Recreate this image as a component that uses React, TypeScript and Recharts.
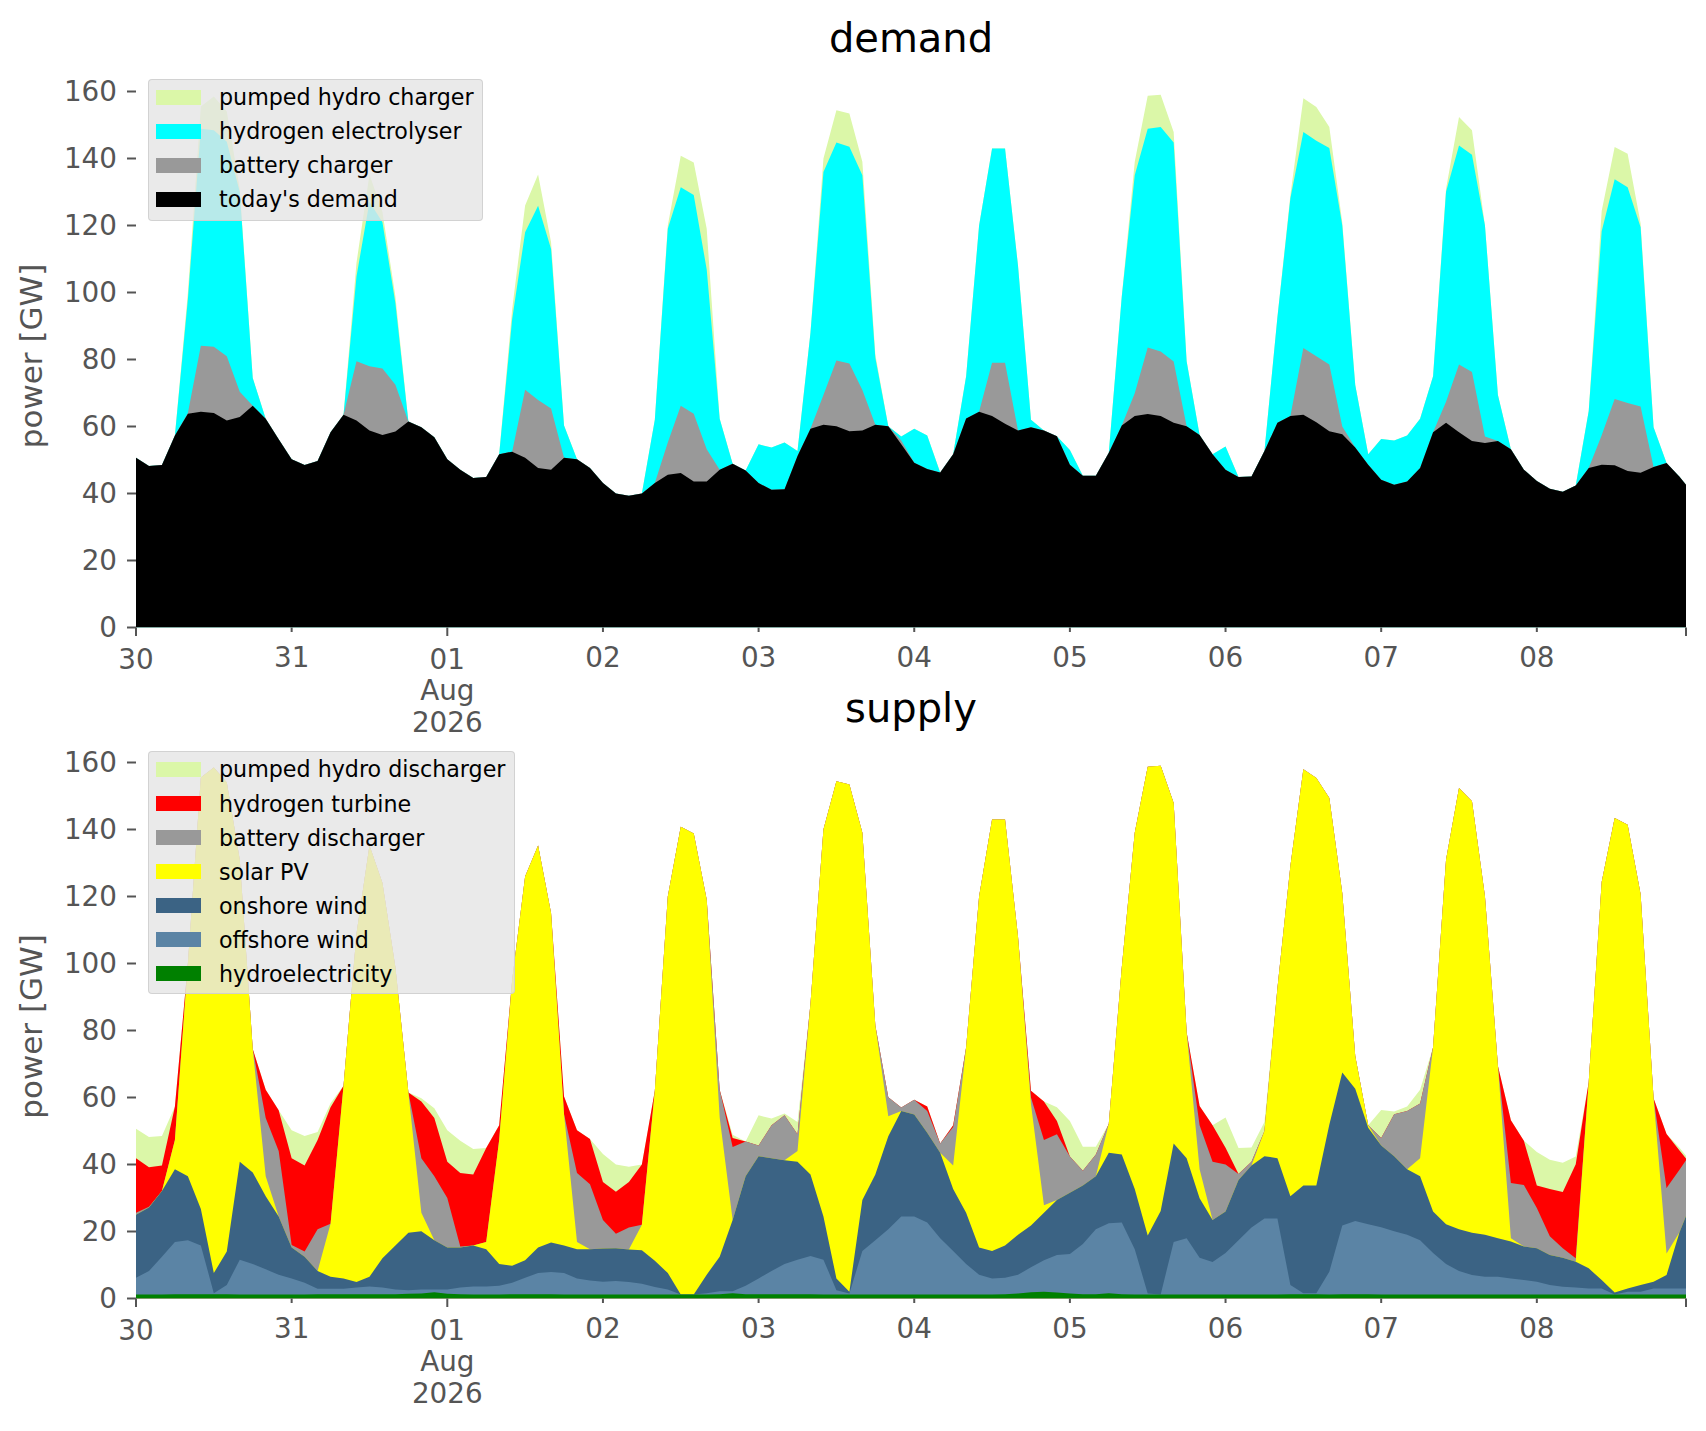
import React from "react";
import { AreaChart, Area, XAxis, YAxis } from "recharts";

// two-hourly samples from 30 Jul 00:00, plus the last hour (08 Aug 23:00)
const hours = [...Array.from({ length: 120 }, (_, i) => i * 2), 239];

const dayTicks = [0, 24, 48, 72, 96, 120, 144, 168, 192, 216];
const dayLabels = ["30", "31", "01\nAug\n2026", "02", "03", "04", "05", "06", "07", "08"];
const majorTicks = [0, 48, 239];
const yTicks = [0, 20, 40, 60, 80, 100, 120, 140, 160];

// upper edge of every band in GW (one row per day)
// demand side
const totalLoad = [
  50.7, 48.2, 48.5, 57.3, 100.0, 155.5, 158.5, 154.0, 131.0, 74.5, 62.3, 56.2,
  50.2, 48.5, 49.7, 58.3, 63.5, 108.9, 135.2, 124.0, 98.8, 61.5, 59.8, 56.8,
  50.2, 47.1, 44.6, 44.9, 51.7, 95.0, 126.0, 135.2, 115.0, 60.3, 50.2, 47.6,
  43.1, 40.0, 39.3, 40.0, 62.0, 120.0, 140.8, 138.8, 119.0, 62.3, 48.9, 46.9,
  54.7, 53.7, 55.2, 52.7, 88.0, 140.0, 154.4, 153.4, 139.0, 81.5, 60.1, 57.0,
  59.3, 57.3, 46.3, 51.7, 75.0, 120.0, 143.0, 143.0, 108.0, 62.0, 58.8, 57.1,
  53.0, 45.3, 45.3, 52.2, 98.8, 139.0, 158.7, 159.0, 147.9, 79.5, 57.5, 51.7,
  54.0, 44.9, 45.1, 52.7, 92.6, 129.1, 158.0, 155.4, 149.4, 121.0, 72.4, 51.7,
  56.3, 55.8, 57.3, 62.3, 75.0, 131.0, 152.4, 148.4, 120.0, 69.4, 53.2, 47.1,
  43.7, 41.4, 40.5, 42.4, 64.6, 124.3, 143.4, 141.4, 120.7, 59.8, 49.1, 45.0, 42.6,
];

const electrolyserTop = [
  50.7, 48.2, 48.5, 57.3, 98.0, 148.9, 148.4, 145.0, 130.0, 74.5, 62.3, 56.2,
  50.2, 48.5, 49.7, 58.3, 63.5, 104.8, 127.1, 121.0, 96.8, 61.5, 59.8, 56.8,
  50.2, 47.1, 44.6, 44.9, 51.7, 92.0, 118.0, 125.9, 113.0, 60.3, 50.2, 47.6,
  43.1, 40.0, 39.3, 40.0, 62.0, 119.0, 131.4, 129.1, 106.9, 62.3, 48.9, 46.9,
  54.7, 53.7, 55.2, 52.7, 88.0, 136.0, 144.8, 143.5, 135.0, 80.5, 60.1, 57.0,
  59.3, 57.3, 46.3, 51.7, 75.0, 120.0, 143.0, 143.0, 108.0, 62.0, 58.8, 57.1,
  53.0, 45.3, 45.3, 52.2, 98.8, 135.0, 148.9, 149.4, 144.8, 79.5, 57.5, 51.7,
  54.0, 44.9, 45.1, 52.7, 92.6, 128.1, 147.9, 145.3, 143.1, 120.0, 72.4, 51.7,
  56.3, 55.8, 57.3, 62.3, 75.0, 130.1, 143.9, 141.1, 120.0, 69.4, 53.2, 47.1,
  43.7, 41.4, 40.5, 42.4, 64.6, 118.3, 133.8, 131.4, 119.5, 59.8, 49.1, 45.0, 42.6,
];

const batteryChargeTop = [
  50.7, 48.2, 48.5, 57.3, 64.0, 84.1, 83.8, 81.0, 70.4, 66.2, 62.3, 56.2,
  50.2, 48.5, 49.7, 58.3, 63.5, 79.5, 78.0, 77.3, 72.5, 61.5, 59.8, 56.8,
  50.2, 47.1, 44.6, 44.9, 51.7, 52.5, 71.0, 67.9, 65.4, 50.7, 50.2, 47.6,
  43.1, 40.0, 39.3, 40.0, 43.1, 55.2, 66.2, 63.8, 53.2, 47.1, 48.9, 46.9,
  43.1, 41.1, 41.3, 51.2, 59.3, 69.4, 79.7, 78.8, 70.9, 60.5, 60.1, 55.8,
  49.2, 47.3, 46.3, 51.7, 62.4, 64.4, 79.0, 79.0, 58.8, 59.8, 58.8, 57.1,
  48.6, 45.3, 45.3, 52.2, 60.3, 69.9, 83.6, 82.4, 79.4, 60.1, 57.5, 51.7,
  47.1, 44.9, 45.1, 52.7, 61.1, 63.1, 83.4, 81.0, 78.5, 60.0, 53.7, 48.6,
  44.1, 42.6, 43.6, 47.6, 58.3, 67.4, 78.5, 76.3, 57.0, 55.7, 53.2, 47.1,
  43.7, 41.4, 40.5, 42.4, 47.6, 57.4, 68.2, 67.0, 66.0, 47.9, 49.1, 45.0, 42.6,
];

const todaysDemand = [
  50.7, 48.2, 48.5, 57.3, 63.8, 64.4, 64.0, 61.8, 62.8, 66.2, 62.3, 56.2,
  50.2, 48.5, 49.7, 58.3, 63.5, 61.8, 58.8, 57.5, 58.5, 61.5, 59.8, 56.8,
  50.2, 47.1, 44.6, 44.9, 51.7, 52.5, 50.7, 47.6, 47.1, 50.7, 50.2, 47.6,
  43.1, 40.0, 39.3, 40.0, 43.1, 45.6, 46.1, 43.6, 43.6, 47.1, 48.9, 46.9,
  43.1, 41.1, 41.3, 51.2, 59.3, 60.5, 60.1, 58.6, 58.8, 60.5, 60.1, 54.7,
  49.2, 47.3, 46.3, 51.7, 62.4, 64.4, 63.1, 60.8, 58.8, 59.8, 58.8, 57.1,
  48.6, 45.3, 45.3, 52.2, 60.3, 63.1, 63.7, 63.1, 61.1, 60.1, 57.5, 51.7,
  47.1, 44.9, 45.1, 52.7, 61.1, 63.1, 63.5, 61.3, 58.6, 57.7, 53.7, 48.6,
  44.1, 42.6, 43.6, 47.6, 58.3, 61.1, 58.3, 55.7, 55.1, 55.7, 53.2, 47.1,
  43.7, 41.4, 40.5, 42.4, 47.6, 48.6, 48.4, 46.7, 46.2, 47.9, 49.1, 45.0, 42.6,
];

// supply side (pumped hydro discharger fills up to totalLoad)
const turbineTop = [
  41.9, 39.2, 39.7, 57.3, 100, 155.5, 158.5, 154, 131, 74.5, 62.3, 56.2,
  41.9, 39.7, 47.3, 57.1, 63.5, 108.9, 135.2, 124, 98.8, 61.5, 58.8, 53.9,
  40.8, 37.5, 37.0, 44.9, 51.7, 95, 126, 135.2, 115, 60.3, 50.2, 47.6,
  34.8, 31.9, 34.8, 40.0, 62, 120, 140.8, 138.8, 119, 62.3, 47.9, 46.9,
  45.7, 51.7, 54.7, 49.0, 88, 140, 154.4, 153.4, 139, 81.5, 60.1, 57.0,
  59.3, 57.3, 46.3, 51.7, 75, 120, 143, 143, 108, 62.0, 58.8, 53.0,
  42.4, 38.1, 43.0, 52.2, 98.8, 139, 158.7, 159, 147.9, 79.5, 57.5, 51.7,
  45.0, 37.2, 40.8, 50.0, 92.6, 129.1, 158, 155.4, 149.4, 121, 72.4, 51.7,
  47.9, 55.0, 56.0, 58.2, 75, 131, 152.4, 148.4, 120, 69.4, 53.2, 47.1,
  33.7, 32.7, 31.8, 40.1, 64.6, 124.3, 143.4, 141.4, 120.7, 59.8, 49.1, 44.2, 41.8,
];

const batteryDischargeTop = [
  25.6, 27.4, 32.1, 47.3, 100, 155.5, 158.5, 154, 131, 74.5, 53.9, 44.0,
  16.0, 14.0, 20.7, 22.3, 63.5, 108.9, 135.2, 124, 98.8, 61.5, 41.9, 36.5,
  30.0, 15.5, 15.8, 16.9, 47.3, 95, 126, 135.2, 115, 55.0, 37.5, 34.1,
  23.4, 19.3, 21.2, 22.0, 62, 120, 140.8, 138.8, 119, 62.3, 45.2, 46.9,
  45.7, 51.7, 54.7, 49.0, 88, 140, 154.4, 153.4, 139, 81.5, 60.1, 57.0,
  59.3, 56.0, 46.3, 51.2, 75, 120, 143, 143, 108, 60.0, 47.3, 49.0,
  42.4, 38.1, 43.0, 52.2, 98.8, 139, 158.7, 159, 147.9, 79.5, 51.7, 40.8,
  40.0, 37.2, 40.8, 50.0, 92.6, 129.1, 158, 155.4, 149.4, 121, 72.4, 51.7,
  47.9, 55.0, 56.0, 58.2, 75, 131, 152.4, 148.4, 120, 69.4, 34.5, 33.9,
  27.0, 18.6, 15.0, 12.0, 64.6, 124.3, 143.4, 141.4, 120.7, 59.8, 33.0, 38.4, 41.3,
];

const solarTop = [
  25.0, 27.2, 32.1, 47.3, 100, 155.5, 158.5, 154, 131, 74.5, 36.5, 24.5,
  15.2, 12.5, 8.2, 22.3, 63.5, 108.9, 135.2, 124, 98.8, 61.5, 25.6, 17.4,
  15.2, 15.2, 15.8, 16.9, 47.3, 95, 126, 135.2, 115, 55.0, 16.9, 14.7,
  14.9, 15.0, 14.6, 22.0, 62, 120, 140.8, 138.8, 119, 54.0, 23.4, 36.5,
  42.5, 41.9, 41.3, 44.0, 88, 140, 154.4, 153.4, 139, 81.5, 54.4, 56.0,
  54.9, 49.5, 43.5, 39.7, 75, 120, 143, 143, 108, 58.0, 27.8, 29.4,
  31.6, 33.7, 36.5, 52.2, 98.8, 139, 158.7, 159, 147.9, 79.5, 38.6, 23.4,
  26.0, 35.4, 39.7, 50.0, 92.6, 129.1, 158, 155.4, 149.4, 121, 72.4, 51.7,
  45.7, 42.5, 38.6, 41.9, 75, 131, 152.4, 148.4, 120, 69.4, 18.0, 15.5,
  15.0, 13.0, 12.2, 11.0, 64.6, 124.3, 143.4, 141.4, 120.7, 59.8, 13.4, 19.8, 24.6,
];

const onshoreTop = [
  25.0, 27.2, 32.1, 38.6, 36.5, 26.7, 7.6, 14.0, 40.8, 37.6, 30.5, 24.5,
  15.2, 12.5, 8.2, 6.5, 6.0, 4.9, 6.5, 12.0, 15.8, 19.6, 20.1, 17.4,
  15.2, 15.2, 15.8, 14.7, 10.3, 9.8, 11.4, 15.2, 16.7, 15.8, 14.7, 14.7,
  14.9, 15.0, 14.6, 14.4, 11.3, 7.6, 1.2, 1.2, 7.1, 12.5, 23.4, 36.5,
  42.5, 41.9, 41.3, 40.8, 37.0, 24.5, 6.0, 2.0, 29.4, 37.0, 48.4, 56.0,
  54.9, 49.5, 43.5, 32.7, 25.6, 15.2, 14.2, 15.8, 19.0, 21.8, 25.6, 29.4,
  31.6, 33.7, 36.5, 43.5, 43.0, 32.7, 18.8, 26.1, 46.3, 41.9, 29.9, 23.4,
  26.0, 35.4, 39.7, 42.5, 41.9, 30.5, 33.7, 33.7, 51.9, 67.5, 62.6, 51.0,
  45.7, 42.5, 38.6, 36.5, 26.0, 22.2, 20.7, 19.6, 19.0, 18.0, 17.0, 15.5,
  15.0, 13.0, 12.2, 11.0, 9.0, 5.5, 1.8, 3.0, 4.0, 5.0, 7.0, 19.8, 24.6,
];

const offshoreTop = [
  6.2, 8.2, 12.5, 16.9, 17.4, 15.8, 1.6, 4.0, 11.6, 10.3, 8.7, 7.1,
  6.0, 4.7, 2.9, 2.9, 2.9, 3.3, 3.6, 3.3, 2.7, 2.5, 2.7, 2.7,
  2.7, 3.3, 3.6, 3.6, 3.8, 4.7, 6.2, 7.6, 7.9, 7.6, 6.0, 5.4,
  5.0, 5.2, 4.9, 4.4, 3.4, 2.7, 1.2, 1.2, 1.6, 2.2, 2.2, 3.8,
  6.0, 8.2, 10.3, 11.6, 12.7, 11.6, 2.5, 1.5, 14.2, 17.4, 20.7, 24.5,
  24.5, 22.7, 18.0, 14.2, 10.3, 7.1, 6.0, 6.2, 7.1, 9.3, 11.4, 13.0,
  13.3, 16.3, 20.7, 22.5, 22.7, 14.7, 1.5, 1.2, 16.9, 18.0, 12.2, 10.9,
  13.6, 17.4, 21.2, 23.9, 23.9, 4.0, 1.6, 1.6, 8.0, 21.8, 23.1, 22.2,
  21.3, 20.1, 19.0, 17.4, 13.6, 10.3, 8.2, 7.0, 6.5, 6.5, 6.0, 5.5,
  5.0, 4.0, 3.5, 3.3, 3.0, 3.0, 1.2, 2.0, 2.0, 3.0, 3.0, 3.0, 3.0,
];

const hydroTop = [
  1.2, 1.2, 1.2, 1.3, 1.3, 1.3, 1.3, 1.3, 1.2, 1.2, 1.2, 1.2,
  1.2, 1.2, 1.3, 1.3, 1.3, 1.3, 1.3, 1.3, 1.3, 1.4, 1.5, 1.9,
  1.4, 1.3, 1.2, 1.2, 1.2, 1.3, 1.3, 1.3, 1.3, 1.2, 1.2, 1.2,
  1.2, 1.2, 1.2, 1.2, 1.2, 1.2, 1.2, 1.2, 1.2, 1.3, 1.6, 1.3,
  1.3, 1.3, 1.3, 1.3, 1.3, 1.2, 1.2, 1.2, 1.2, 1.2, 1.2, 1.2,
  1.2, 1.2, 1.2, 1.2, 1.2, 1.2, 1.2, 1.3, 1.5, 1.9, 2.0, 1.8,
  1.5, 1.3, 1.3, 1.6, 1.3, 1.2, 1.2, 1.2, 1.2, 1.2, 1.2, 1.2,
  1.2, 1.2, 1.2, 1.2, 1.2, 1.3, 1.3, 1.3, 1.2, 1.3, 1.3, 1.3,
  1.2, 1.2, 1.2, 1.2, 1.2, 1.2, 1.2, 1.2, 1.2, 1.2, 1.2, 1.2,
  1.2, 1.2, 1.2, 1.2, 1.2, 1.2, 1.2, 1.2, 1.2, 1.2, 1.2, 1.2, 1.2,
];

const demandRows = hours.map((hour, i) => {
  const total = totalLoad[i];
  const electrolyser = Math.min(electrolyserTop[i], total);
  const battery = Math.min(batteryChargeTop[i], electrolyser);
  const demand = Math.min(todaysDemand[i], battery);
  return { hour, total, electrolyser, battery, demand };
});

const supplyRows = hours.map((hour, i) => {
  const total = totalLoad[i];
  const turbine = Math.min(turbineTop[i], total);
  const battery = Math.min(batteryDischargeTop[i], turbine);
  const solar = Math.min(solarTop[i], battery);
  const onshore = Math.min(onshoreTop[i], solar);
  const offshore = Math.min(offshoreTop[i], onshore);
  const hydro = Math.min(hydroTop[i], offshore);
  return { hour, total, turbine, battery, solar, onshore, offshore, hydro };
});

const FONT = "DejaVu Sans";
const GREY = "#555555";

const demandLegend: [string, string][] = [
  ["pumped hydro charger", "#dbf7a8"],
  ["hydrogen electrolyser", "#00ffff"],
  ["battery charger", "#999999"],
  ["today's demand", "#000000"],
];

const supplyLegend: [string, string][] = [
  ["pumped hydro discharger", "#dbf7a8"],
  ["hydrogen turbine", "#ff0000"],
  ["battery discharger", "#999999"],
  ["solar PV", "#ffff00"],
  ["onshore wind", "#3b6384"],
  ["offshore wind", "#5b84a5"],
  ["hydroelectricity", "#008000"],
];

function DayTick(props: any) {
  const { x, y, payload } = props;
  const v = payload.value;
  const major = majorTicks.includes(v);
  const idx = dayTicks.indexOf(v);
  const lines = idx >= 0 ? dayLabels[idx].split("\n") : [];
  return (
    <g>
      <line x1={x} x2={x} y1={y} y2={y + (major ? 8.5 : 4.5)} stroke={GREY} strokeWidth={2} />
      {lines.map((t, k) => (
        <text
          key={k}
          x={x}
          y={y + (major ? 41 : 39.6) + k * 31.7}
          textAnchor="middle"
          fill={GREY}
          fontSize={27.8}
          fontFamily={FONT}
        >
          {t}
        </text>
      ))}
    </g>
  );
}

function Axes() {
  return [
    <XAxis
      key="x"
      dataKey="hour"
      type="number"
      domain={[0, 239]}
      ticks={[...dayTicks, 239]}
      interval={0}
      height={132.5}
      tickSize={0}
      tickMargin={0}
      axisLine={false}
      tickLine={false}
      tick={DayTick}
      allowDataOverflow
    />,
    <YAxis
      key="y"
      type="number"
      domain={[0, 168]}
      ticks={yTicks}
      interval={0}
      width={136}
      tickSize={9}
      tickMargin={10}
      axisLine={false}
      tickLine={{ stroke: GREY, strokeWidth: 2 }}
      tick={{ fill: GREY, fontSize: 27.8, fontFamily: FONT }}
      allowDataOverflow
    />,
  ];
}

function LegendBox({ top, width, height, items }: { top: number; width: number; height: number; items: [string, string][] }) {
  const rowH = 34.05;
  return (
    <div
      style={{
        position: "absolute",
        left: 148,
        top,
        width,
        height,
        boxSizing: "border-box",
        background: "rgba(229,229,229,0.8)",
        border: "1px solid rgba(204,204,204,0.8)",
        borderRadius: 4,
      }}
    >
      {items.map(([label, color], k) => (
        <div
          key={label}
          style={{ position: "absolute", left: 7, top: 0.6 + k * rowH, height: 34, display: "flex", alignItems: "center" }}
        >
          <div style={{ width: 45, height: 15, background: color }} />
          <span
            style={{
              marginLeft: 18,
              fontSize: 22.2,
              lineHeight: "34px",
              color: "#000",
              fontFamily: FONT,
              whiteSpace: "nowrap",
            }}
          >
            {label}
          </span>
        </div>
      ))}
    </div>
  );
}

const chartMargin = { top: 64.7, right: 20, bottom: 0, left: 0 };

export default function App() {
  return (
    <div style={{ position: "absolute", left: 0, top: 0, width: 1706, height: 1431, background: "#fff", fontFamily: FONT }}>
      <div style={{ position: "absolute", left: 0, top: 0 }}>
        <AreaChart width={1706} height={760} data={demandRows} margin={chartMargin}>
          {Axes()}
          <Area type="linear" dataKey="total" stroke="none" fill="#dbf7a8" fillOpacity={1} isAnimationActive={false} dot={false} activeDot={false} />
          <Area type="linear" dataKey="electrolyser" stroke="none" fill="#00ffff" fillOpacity={1} isAnimationActive={false} dot={false} activeDot={false} />
          <Area type="linear" dataKey="battery" stroke="none" fill="#999999" fillOpacity={1} isAnimationActive={false} dot={false} activeDot={false} />
          <Area type="linear" dataKey="demand" stroke="none" fill="#000000" fillOpacity={1} isAnimationActive={false} dot={false} activeDot={false} />
        </AreaChart>
      </div>
      <div style={{ position: "absolute", left: 0, top: 670.5 }}>
        <AreaChart width={1706} height={760} data={supplyRows} margin={chartMargin}>
          {Axes()}
          <Area type="linear" dataKey="total" stroke="none" fill="#dbf7a8" fillOpacity={1} isAnimationActive={false} dot={false} activeDot={false} />
          <Area type="linear" dataKey="turbine" stroke="none" fill="#ff0000" fillOpacity={1} isAnimationActive={false} dot={false} activeDot={false} />
          <Area type="linear" dataKey="battery" stroke="none" fill="#999999" fillOpacity={1} isAnimationActive={false} dot={false} activeDot={false} />
          <Area type="linear" dataKey="solar" stroke="none" fill="#ffff00" fillOpacity={1} isAnimationActive={false} dot={false} activeDot={false} />
          <Area type="linear" dataKey="onshore" stroke="none" fill="#3b6384" fillOpacity={1} isAnimationActive={false} dot={false} activeDot={false} />
          <Area type="linear" dataKey="offshore" stroke="none" fill="#5b84a5" fillOpacity={1} isAnimationActive={false} dot={false} activeDot={false} />
          <Area type="linear" dataKey="hydro" stroke="none" fill="#008000" fillOpacity={1} isAnimationActive={false} dot={false} activeDot={false} />
        </AreaChart>
      </div>
      <svg width={1706} height={1431} style={{ position: "absolute", left: 0, top: 0, pointerEvents: "none" }}>
        <text x={911} y={51.7} textAnchor="middle" fontSize={40} fontFamily={FONT} fill="#000">demand</text>
        <text x={911} y={722.2} textAnchor="middle" fontSize={40} fontFamily={FONT} fill="#000">supply</text>
        <text transform="translate(42,356) rotate(-90)" textAnchor="middle" fontSize={31} fontFamily={FONT} fill={GREY}>power [GW]</text>
        <text transform="translate(42,1026.5) rotate(-90)" textAnchor="middle" fontSize={31} fontFamily={FONT} fill={GREY}>power [GW]</text>
      </svg>
      <LegendBox top={78.6} width={335} height={142} items={demandLegend} />
      <LegendBox top={750.9} width={367} height={243.6} items={supplyLegend} />
    </div>
  );
}
